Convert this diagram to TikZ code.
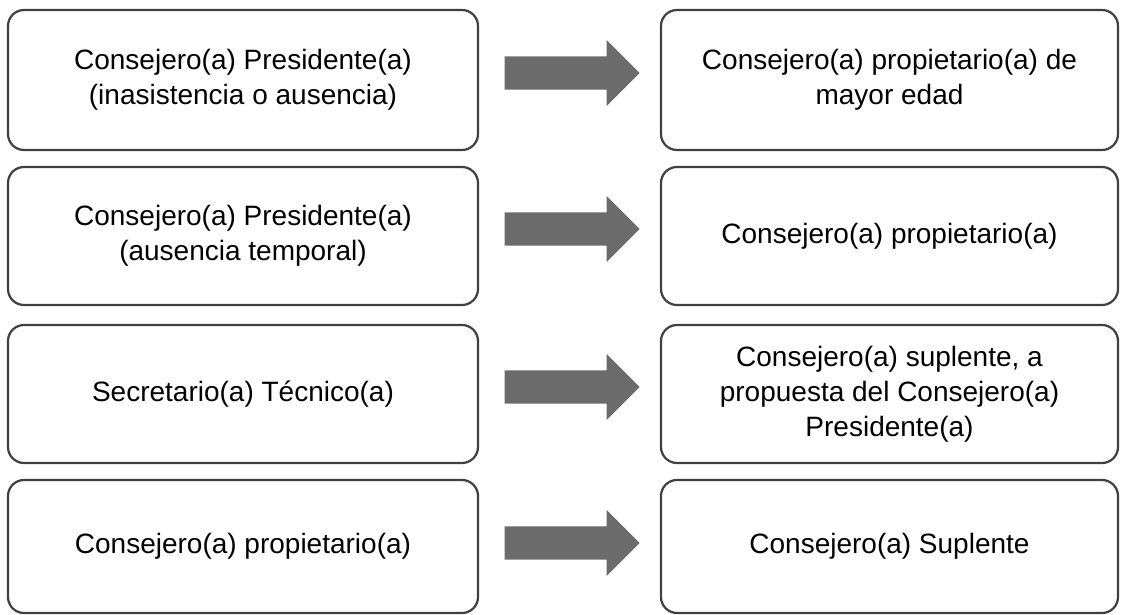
\documentclass[tikz,border=0pt]{standalone}
\usepackage{fontspec}
\setmainfont{Liberation Sans}
\usetikzlibrary{shapes.arrows}

\begin{document}
\begin{tikzpicture}[x=1pt,y=-1pt]
    \tikzstyle{box}=[draw=black!75,line width=2.2pt,rounded corners=16pt,align=center,inner sep=0pt,font=\fontsize{28}{35}\selectfont]
    \tikzstyle{leftbox}=[box,minimum width=470pt]
    \tikzstyle{rightbox}=[box,minimum width=457pt]
    \tikzstyle{blockarrow}=[single arrow,fill=black!58,draw=none,inner xsep=0pt,inner ysep=16.5pt,minimum height=135pt,single arrow head extend=16.5pt,anchor=tip]
    \useasboundingbox (0,0) rectangle (1121,615);
    % left column
    \node[leftbox,minimum height=140pt] (L1) at (243,80)  {Consejero(a) Presidente(a)\\(inasistencia o ausencia)};
    \node[leftbox,minimum height=138pt] (L2) at (243,236) {Consejero(a) Presidente(a)\\(ausencia temporal)};
    \node[leftbox,minimum height=138pt] (L3) at (243,394) {Secretario(a) Técnico(a)};
    \node[leftbox,minimum height=133pt] (L4) at (243,546.5) {Consejero(a) propietario(a)};
    % right column
    \node[rightbox,minimum height=140pt] (R1) at (889.5,80)  {Consejero(a) propietario(a) de\\mayor edad};
    \node[rightbox,minimum height=138pt] (R2) at (889.5,236) {Consejero(a) propietario(a)};
    \node[rightbox,minimum height=138pt] (R3) at (889.5,394) {Consejero(a) suplente, a\\propuesta del Consejero(a)\\Presidente(a)};
    \node[rightbox,minimum height=133pt] (R4) at (889.5,546.5) {Consejero(a) Suplente};
    % arrows
    \node[blockarrow] (A1) at (640,73)  {};
    \node[blockarrow] (A2) at (640,229) {};
    \node[blockarrow] (A3) at (640,387) {};
    \node[blockarrow] (A4) at (640,543) {};
\end{tikzpicture}
\end{document}
